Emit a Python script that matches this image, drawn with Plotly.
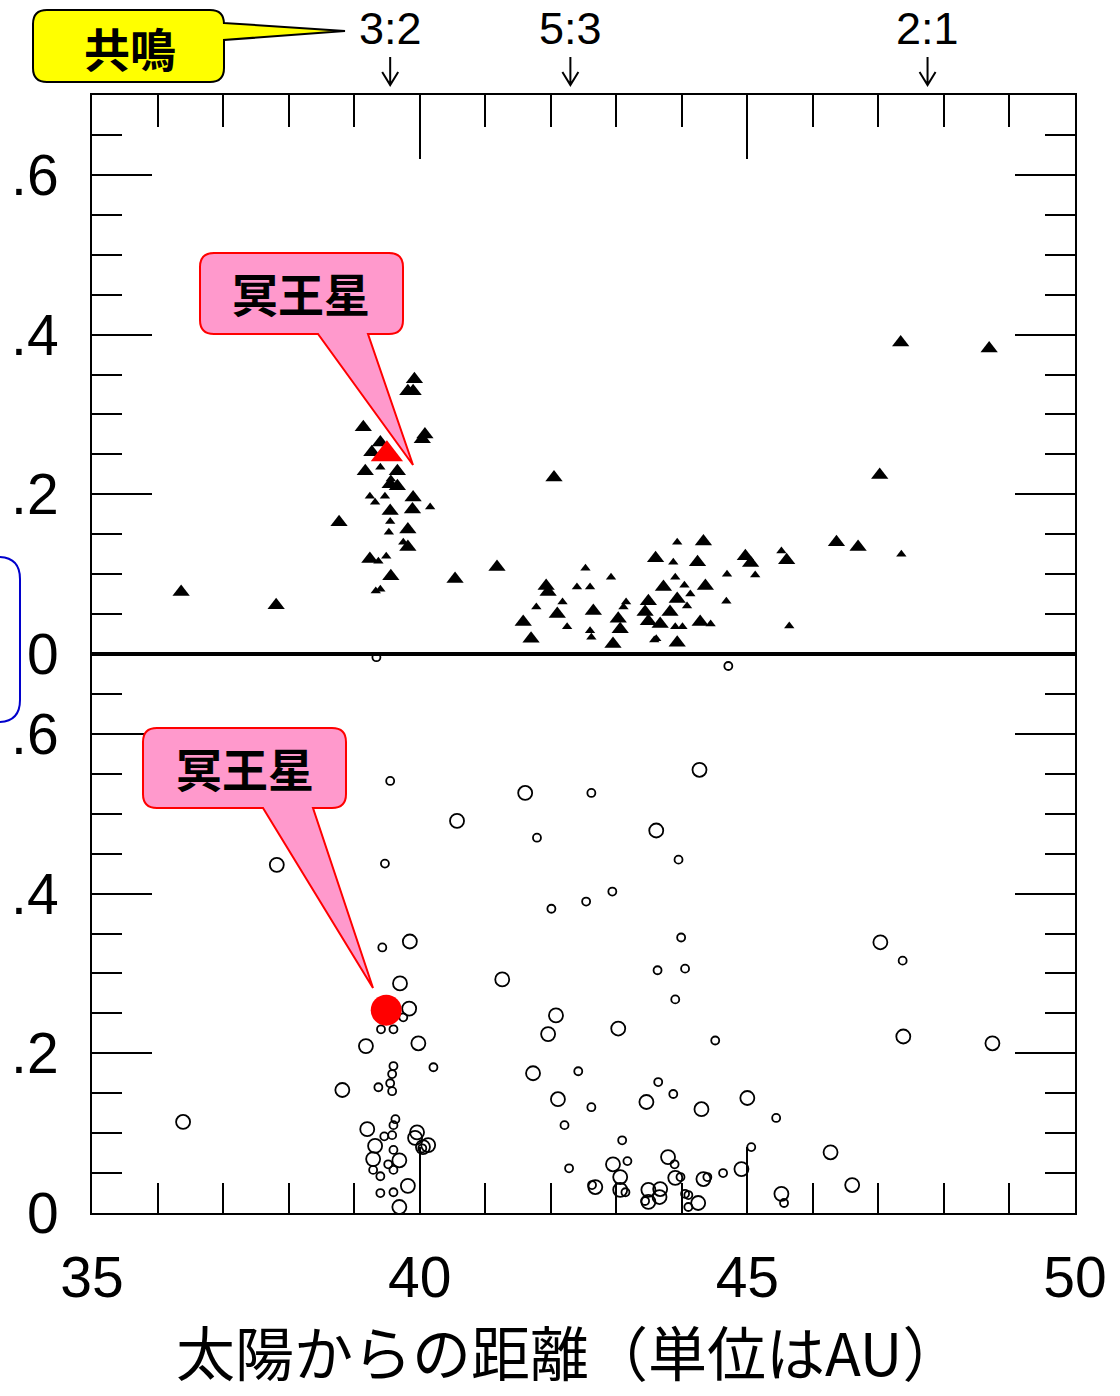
import plotly.graph_objects as go

# ---------------- data ----------------
# top panel: eccentricity vs semimajor axis (AU); large / small triangles
top_large_a = [39.92, 39.82, 39.90, 39.14, 40.08, 40.04, 39.40, 39.27, 39.17, 39.66, 39.55, 39.66,
               39.90, 39.89, 39.55, 38.77, 39.82, 39.82, 39.24, 39.56, 40.54, 41.18, 36.36, 37.81,
               42.05, 41.93, 41.96, 41.58, 41.70, 42.10, 42.65, 43.03, 43.06, 42.95, 43.49, 43.44,
               43.49, 43.67, 43.60, 44.33, 44.24, 43.72, 44.36, 43.93, 43.82, 43.93, 44.28, 44.97,
               45.05, 45.60, 46.36, 46.69, 47.02, 47.34, 48.69]
top_large_e = [0.344, 0.329, 0.329, 0.284, 0.275, 0.269, 0.265, 0.2525, 0.229, 0.229, 0.2125, 0.21,
               0.196, 0.181, 0.179, 0.165, 0.156, 0.134, 0.119, 0.0975, 0.094, 0.109, 0.0775, 0.061,
               0.221, 0.085, 0.0775, 0.04, 0.019, 0.05, 0.054, 0.044, 0.031, 0.0125, 0.066, 0.0525,
               0.041, 0.0375, 0.12, 0.141, 0.115, 0.084, 0.085, 0.069, 0.0525, 0.014, 0.04, 0.1225,
               0.114, 0.1175, 0.14, 0.134, 0.224, 0.39, 0.3825]
top_small_a = [39.24, 39.32, 39.47, 40.16, 39.55, 39.53, 39.75, 39.37, 39.49, 39.40, 39.33, 39.40, 39.56,
               41.78, 42.18, 42.25, 42.53, 42.40, 42.60, 42.60, 42.62, 42.92, 43.15, 43.11, 43.87,
               43.93, 43.90, 44.04, 44.13, 44.08, 43.61, 43.90, 44.01, 44.44, 44.69, 44.68, 45.12,
               45.52, 45.64, 47.35, 43.58]
top_small_e = [0.1975, 0.19, 0.1975, 0.184, 0.166, 0.1525, 0.14, 0.116, 0.1225, 0.081, 0.079, 0.234, 0.219,
               0.059, 0.065, 0.034, 0.1075, 0.084, 0.084, 0.029, 0.021, 0.096, 0.065, 0.059, 0.115,
               0.14, 0.096, 0.086, 0.075, 0.06, 0.019, 0.034, 0.034, 0.0375, 0.1, 0.066, 0.099,
               0.129, 0.035, 0.125, 0.0175]

# bottom panel: inclination vs semimajor axis; large / small open circles
bot_large_a = [37.82, 39.85, 39.70, 39.84, 39.18, 39.98, 38.82, 36.39, 39.20, 39.96, 39.93, 40.13,
               40.05, 39.32, 39.29, 39.69, 39.82, 39.69,
               40.57, 41.61, 44.27, 43.61, 41.26, 42.08, 41.96, 43.03, 41.73, 42.11, 43.46, 44.30,
               45.00, 46.27, 42.95, 43.06, 43.06, 42.68, 43.79, 43.90, 44.33, 44.91, 43.67, 43.49,
               43.49, 43.66, 44.25, 45.52, 46.60, 47.03, 47.38, 48.74]
bot_large_i = [0.436, 0.34, 0.2875, 0.256, 0.209, 0.2125, 0.154, 0.114, 0.105, 0.101, 0.094, 0.085,
               0.0825, 0.084, 0.0675, 0.066, 0.034, 0.0075,
               0.491, 0.526, 0.555, 0.479, 0.2925, 0.2475, 0.224, 0.231, 0.175, 0.1425, 0.139, 0.13,
               0.144, 0.076, 0.061, 0.045, 0.029, 0.0325, 0.07, 0.044, 0.0425, 0.055, 0.03, 0.029,
               0.014, 0.02, 0.0125, 0.024, 0.035, 0.339, 0.221, 0.2125]
bot_small_a = [39.34, 44.71, 39.55, 42.62, 41.79, 43.95, 39.47, 42.94, 42.54, 42.01, 43.99, 43.63,
               44.05, 43.90, 44.51, 39.43, 47.37, 39.75, 39.41, 39.60,
               40.21, 39.60, 39.58, 39.55, 39.58, 39.37, 39.63, 39.60, 39.46, 39.58, 39.60, 39.52,
               39.29, 39.40, 39.60, 39.40, 39.60, 40.04,
               42.42, 42.21, 42.28, 43.64, 43.87, 42.62, 45.44, 43.09, 45.06, 43.17, 43.14, 42.63,
               43.89, 43.98, 44.39, 44.63, 43.44, 44.05, 44.10, 44.10, 45.56]
bot_small_i = [0.696, 0.685, 0.541, 0.526, 0.47, 0.4425, 0.4375, 0.4025, 0.39, 0.381, 0.345, 0.304,
               0.306, 0.2675, 0.216, 0.3325, 0.316, 0.245, 0.23, 0.23,
               0.1825, 0.184, 0.174, 0.1625, 0.1525, 0.1575, 0.1175, 0.11, 0.096, 0.0975, 0.079, 0.061,
               0.054, 0.046, 0.054, 0.025, 0.026, 0.081,
               0.1775, 0.11, 0.056, 0.164, 0.149, 0.1325, 0.119, 0.091, 0.0825, 0.065, 0.026, 0.035,
               0.061, 0.045, 0.045, 0.05, 0.015, 0.024, 0.0225, 0.0075, 0.0125]

# Pluto
pluto_a_top, pluto_e = 39.50, 0.25
pluto_a_bot, pluto_i = 39.49, 0.254

# resonances
res_pos = [39.55, 42.3, 47.75]
res_labels = ["3:2", "5:3", "2:1"]

# tick labels
x_ticks = [35, 40, 45, 50]
y_ticks = [0, 0.2, 0.4, 0.6]
y_ticktext = ["0", ".2", ".4", ".6"]

title_text = "太陽からの距離（単位はAU）"
resonance_text = "共鳴"
pluto_text = "冥王星"

# ---------------- layout geometry (pixels) ----------------
W, H = 1120, 1396
L, R, T, B = 92, 1075, 95, 1213


def PX(x):
    return (x - L) / (R - L)


def PY(y):
    return (B - y) / (B - T)


def rounded_path(x0, y0, x1, y1, r, wedge=None):
    """rounded rectangle (pixel coords) with optional wedge.
    wedge: ('bottom', xa, xb, tipx, tipy) or ('right', ya, yb, tipx, tipy)"""
    pts = []
    def M(x, y):
        pts.append(f"M{PX(x):.5f},{PY(y):.5f}")
    def Lp(x, y):
        pts.append(f"L{PX(x):.5f},{PY(y):.5f}")
    def Q(cx, cy, x, y):
        pts.append(f"Q{PX(cx):.5f},{PY(cy):.5f} {PX(x):.5f},{PY(y):.5f}")
    M(x0 + r, y0)
    Lp(x1 - r, y0)
    Q(x1, y0, x1, y0 + r)
    if wedge and wedge[0] == 'right':
        _, ya, yb, tx, ty = wedge
        Lp(x1, ya)
        Lp(tx, ty)
        Lp(x1, yb)
    Lp(x1, y1 - r)
    Q(x1, y1, x1 - r, y1)
    if wedge and wedge[0] == 'bottom':
        _, xa, xb, tx, ty = wedge
        Lp(xb, y1)
        Lp(tx, ty)
        Lp(xa, y1)
    Lp(x0 + r, y1)
    Q(x0, y1, x0, y1 - r)
    Lp(x0, y0 + r)
    Q(x0, y0, x0 + r, y0)
    pts.append("Z")
    return " ".join(pts)


fig = go.Figure()

tri_line = dict(width=0)
fig.add_trace(go.Scatter(x=top_large_a, y=top_large_e, mode="markers", xaxis="x2", yaxis="y2",
                         marker=dict(symbol="triangle-up", size=15, color="black", line=tri_line),
                         showlegend=False, hoverinfo="skip"))
fig.add_trace(go.Scatter(x=top_small_a, y=top_small_e, mode="markers", xaxis="x2", yaxis="y2",
                         marker=dict(symbol="triangle-up", size=9, color="black", line=tri_line),
                         showlegend=False, hoverinfo="skip"))
fig.add_trace(go.Scatter(x=bot_large_a, y=bot_large_i, mode="markers", xaxis="x", yaxis="y",
                         marker=dict(symbol="circle-open", size=14, color="black", line=dict(width=1.8, color="black")),
                         showlegend=False, hoverinfo="skip"))
fig.add_trace(go.Scatter(x=bot_small_a, y=bot_small_i, mode="markers", xaxis="x", yaxis="y",
                         marker=dict(symbol="circle-open", size=8, color="black", line=dict(width=1.8, color="black")),
                         showlegend=False, hoverinfo="skip"))
fig.add_trace(go.Scatter(x=[pluto_a_top], y=[pluto_e], mode="markers", xaxis="x2", yaxis="y2",
                         marker=dict(symbol="triangle-up", size=28, color="#FF0000", line=dict(width=0)),
                         showlegend=False, hoverinfo="skip"))
fig.add_trace(go.Scatter(x=[pluto_a_bot], y=[pluto_i], mode="markers", xaxis="x", yaxis="y",
                         marker=dict(symbol="circle", size=31, color="#FF0000", line=dict(width=0)),
                         showlegend=False, hoverinfo="skip"))

axis_common = dict(showgrid=False, zeroline=False, showline=True, linewidth=2, linecolor="black",
                   ticks="inside", tickwidth=2, tickcolor="black", automargin=False)
tickfont = dict(family="Liberation Sans, Arial, sans-serif", size=57, color="black")

xa = dict(axis_common, range=[35, 50], tickvals=x_ticks, ticktext=[str(v) for v in x_ticks],
          ticklen=66, mirror=True, tickfont=tickfont, ticklabelstandoff=14, anchor="y",
          domain=[0, 1],
          minor=dict(tick0=35, dtick=1, ticks="inside", ticklen=30, tickwidth=2, tickcolor="black"))
xa2 = dict(axis_common, range=[35, 50], tickvals=x_ticks, ticklen=64, mirror=True, side="top",
           showticklabels=False, anchor="y2", matches="x", domain=[0, 1],
           minor=dict(tick0=35, dtick=1, ticks="inside", ticklen=32, tickwidth=2, tickcolor="black"))
ya = dict(axis_common, range=[0, 0.7], tickvals=y_ticks, ticktext=y_ticktext, ticklen=60,
          mirror="ticks", tickfont=tickfont, ticklabelstandoff=20, domain=[0, 0.5], anchor="x",
          minor=dict(tick0=0, dtick=0.05, ticks="inside", ticklen=30, tickwidth=2, tickcolor="black"))
ya2 = dict(ya, domain=[0.5, 1.0], anchor="x2")

shapes = []
# resonance arrows
hw = 8 / (R - L) * 15.0
for xr in res_pos:
    shapes.append(dict(type="path", xref="x2", yref="paper",
                       path=f"M{xr},{PY(57):.5f} L{xr},{PY(85):.5f} M{xr - hw},{PY(72):.5f} L{xr},{PY(85):.5f} L{xr + hw},{PY(72):.5f}",
                       line=dict(color="black", width=2)))

# callouts
shapes.append(dict(type="path", xref="paper", yref="paper", layer="above",
                   path=rounded_path(33, 10, 224, 82, 14, wedge=('right', 23, 40, 345, 31)),
                   fillcolor="#FFFF00", line=dict(color="black", width=2)))
shapes.append(dict(type="path", xref="paper", yref="paper", layer="above",
                   path=rounded_path(200, 253, 403, 334, 14, wedge=('bottom', 318, 368, 413, 465)),
                   fillcolor="#FF99CC", line=dict(color="#FF0000", width=2)))
shapes.append(dict(type="path", xref="paper", yref="paper", layer="above",
                   path=rounded_path(143, 728, 346, 808, 14, wedge=('bottom', 263, 313, 373, 988)),
                   fillcolor="#FF99CC", line=dict(color="#FF0000", width=2)))
# partially visible blue box at the left edge
shapes.append(dict(type="path", xref="paper", yref="paper", layer="above",
                   path=rounded_path(-120, 557, 20, 722, 22),
                   fillcolor="rgba(0,0,0,0)", line=dict(color="#0000CC", width=2)))

cjk = "Noto Sans CJK JP"
annotations = []
for xr, lab in zip(res_pos, res_labels):
    annotations.append(dict(x=xr, y=PY(29), xref="x2", yref="paper", text=lab, showarrow=False,
                            xanchor="center", yanchor="middle",
                            font=dict(family="Liberation Sans, Arial, sans-serif", size=45, color="black")))
annotations.append(dict(x=PX(130), y=PY(47), xref="paper", yref="paper", text=f"<b>{resonance_text}</b>",
                        showarrow=False, xanchor="center", yanchor="middle",
                        font=dict(family=cjk, size=46, color="black")))
annotations.append(dict(x=PX(301), y=PY(292), xref="paper", yref="paper", text=f"<b>{pluto_text}</b>",
                        showarrow=False, xanchor="center", yanchor="middle",
                        font=dict(family=cjk, size=46, color="black")))
annotations.append(dict(x=PX(245), y=PY(767), xref="paper", yref="paper", text=f"<b>{pluto_text}</b>",
                        showarrow=False, xanchor="center", yanchor="middle",
                        font=dict(family=cjk, size=46, color="black")))
annotations.append(dict(x=PX(568), y=PY(1394), xref="paper", yref="paper", text=title_text,
                        showarrow=False, xanchor="center", yanchor="bottom", borderpad=0,
                        font=dict(family=cjk, size=59, color="black")))

fig.update_layout(
    width=W, height=H,
    margin=dict(l=L, r=W - R, t=T, b=H - B, pad=0, autoexpand=False),
    paper_bgcolor="white", plot_bgcolor="white",
    xaxis=xa, xaxis2=xa2, yaxis=ya, yaxis2=ya2,
    shapes=shapes, annotations=annotations,
    showlegend=False,
)

fig.write_html("out.html", config={"displayModeBar": False})
